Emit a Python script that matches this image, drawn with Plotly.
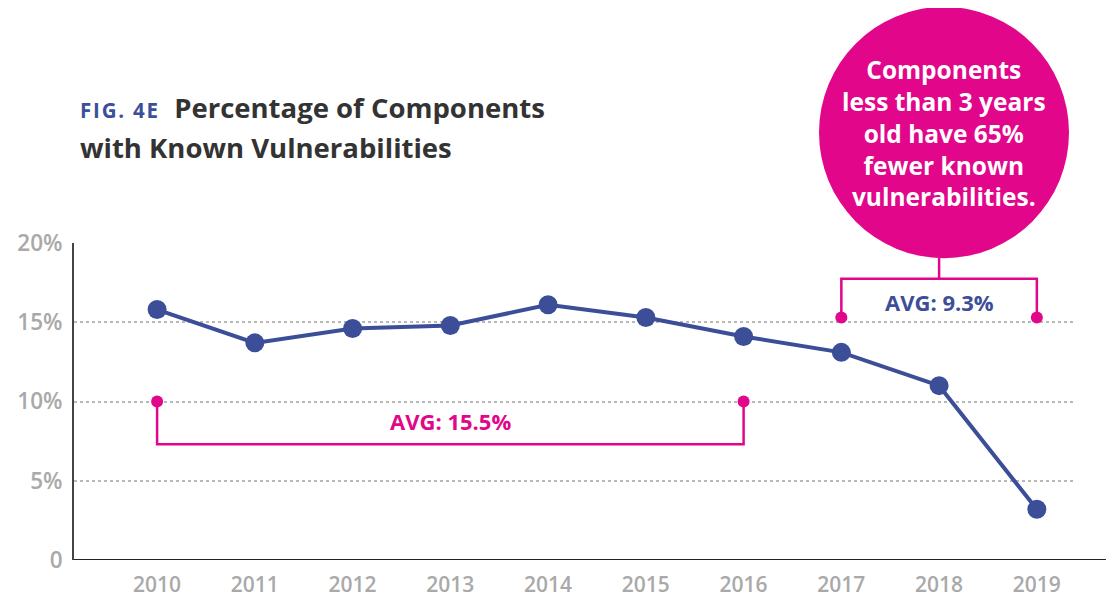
import plotly.graph_objects as go

years = [2010, 2011, 2012, 2013, 2014, 2015, 2016, 2017, 2018, 2019]
pct = [15.8, 13.7, 14.6, 14.8, 16.1, 15.3, 14.1, 13.1, 11.0, 3.2]

y_ticks = [0, 5, 10, 15, 20]
y_labels = ["0", "5%", "10%", "15%", "20%"]

# averages called out with brackets
old_span = [2010, 2016]
old_avg_label = "AVG: 15.5%"
new_span = [2017, 2019]
new_avg_label = "AVG: 9.3%"

bubble_lines = ["Components", "less than 3 years", "old have 65%", "fewer known", "vulnerabilities."]

BLUE = "#3c4e98"
PINK = "#e2068a"
GREY = "#a9a9a9"
FONT = "Open Sans"

fig = go.Figure()

# lower bracket (2010-2016)
fig.add_trace(go.Scatter(
    x=[old_span[0], old_span[0], old_span[1], old_span[1]],
    y=[10, 7.3, 7.3, 10],
    mode="lines", line=dict(color=PINK, width=2.5), hoverinfo="skip"))
fig.add_trace(go.Scatter(
    x=old_span, y=[10, 10], mode="markers",
    marker=dict(color=PINK, size=12), hoverinfo="skip"))

# upper bracket (2017-2019) with stem up to the bubble
fig.add_trace(go.Scatter(
    x=[new_span[0], new_span[0], new_span[1], new_span[1]],
    y=[15.3, 17.75, 17.75, 15.3],
    mode="lines", line=dict(color=PINK, width=2.5), hoverinfo="skip"))
fig.add_trace(go.Scatter(
    x=[2018, 2018], y=[17.75, 19.5],
    mode="lines", line=dict(color=PINK, width=2.5), hoverinfo="skip"))
fig.add_trace(go.Scatter(
    x=new_span, y=[15.3, 15.3], mode="markers",
    marker=dict(color=PINK, size=12), hoverinfo="skip"))

# main series
fig.add_trace(go.Scatter(
    x=years, y=pct, mode="lines+markers",
    line=dict(color=BLUE, width=4),
    marker=dict(color=BLUE, size=19)))

fig.add_annotation(x=2013, y=8.8, text=old_avg_label, showarrow=False,
                   font=dict(family=FONT, size=22, color=PINK, weight=700))
fig.add_annotation(x=2018, y=16.3, text=new_avg_label, showarrow=False,
                   font=dict(family=FONT, size=22, color=BLUE, weight=700))

# pink bubble
fig.add_shape(type="circle", xref="paper", yref="paper",
              x0=0.745, x1=0.995, y0=0.952, y1=1.745,
              fillcolor=PINK, line=dict(width=0), layer="above")
fig.add_annotation(xref="paper", yref="paper", x=0.87, y=1.347,
                   text="<br>".join(bubble_lines), showarrow=False,
                   xanchor="center", yanchor="middle", align="center",
                   font=dict(family=FONT, size=24.5, color="white", weight=700))

# x axis baseline running past the plot
fig.add_shape(type="line", xref="paper", yref="y", x0=0, x1=1.04, y0=0, y1=0,
              line=dict(color="#222", width=2))

# title
fig.add_annotation(xref="paper", yref="paper", x=0.004, y=1.426, xanchor="left", yanchor="middle",
                   showarrow=False,
                   text="<span style='font-size:20.5px;color:#3b4f9a;letter-spacing:1.8px'>FIG. 4E</span>  Percentage of Components",
                   font=dict(family=FONT, size=27.5, color="#333333", weight=700))
fig.add_annotation(xref="paper", yref="paper", x=0.004, y=1.30, xanchor="left", yanchor="middle",
                   showarrow=False, text="with Known Vulnerabilities",
                   font=dict(family=FONT, size=27.5, color="#333333", weight=700))

# page is offset by the 8px body margin, so the figure is 8px smaller each way
fig.update_layout(
    width=1106, height=590,
    margin=dict(l=66, r=40, t=235, b=38),
    paper_bgcolor="white", plot_bgcolor="white",
    showlegend=False,
    font=dict(family=FONT),
)
fig.update_xaxes(
    range=[2009.15, 2019.38], tickvals=years, ticktext=[str(y) for y in years],
    showgrid=False, zeroline=False, showline=False, automargin=False,
    ticks="outside", ticklen=6, tickcolor="rgba(0,0,0,0)",
    tickfont=dict(family=FONT, size=21, color=GREY, weight=600),
)
fig.update_yaxes(
    range=[0, 20], tickvals=y_ticks, ticktext=y_labels, automargin=False,
    showgrid=True, gridcolor="#b8b8b8", griddash="dot", gridwidth=1.5,
    zeroline=False, showline=True, linecolor="#444", linewidth=2,
    ticks="outside", ticklen=5, tickcolor="rgba(0,0,0,0)",
    tickfont=dict(family=FONT, size=22.5, color=GREY, weight=600),
)

fig.write_html("out.html")
